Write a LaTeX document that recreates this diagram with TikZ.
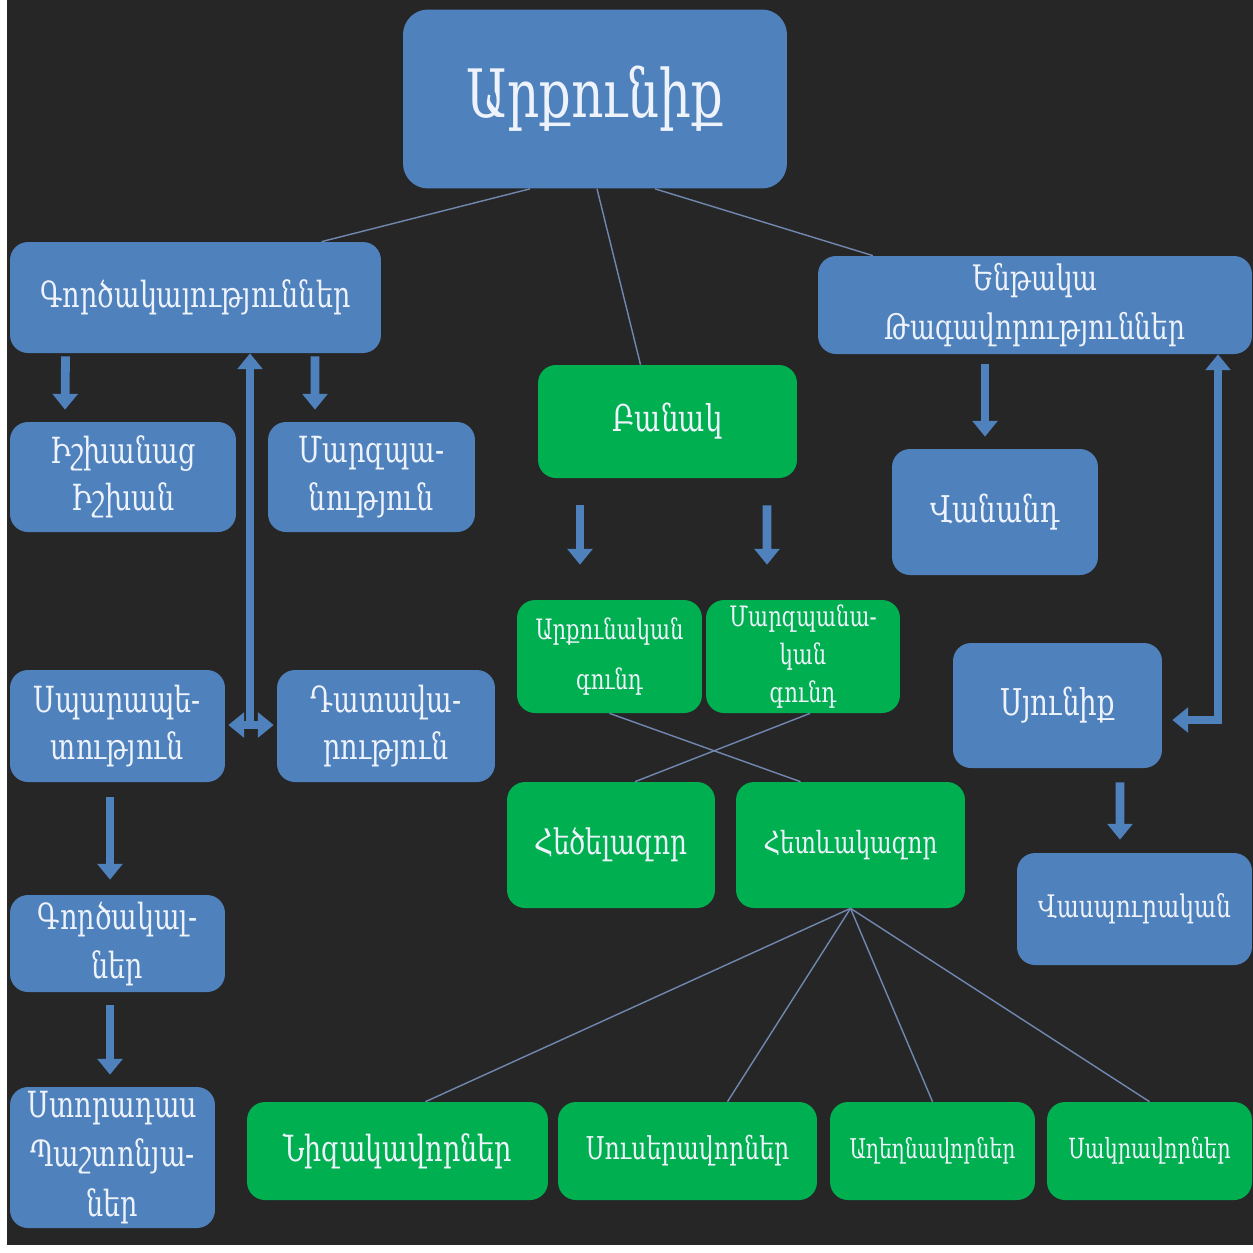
\documentclass[tikz,border=0pt]{standalone}
\usepackage{fontspec}
\setmainfont{DejaVu Serif}[FakeStretch=0.75]
\usetikzlibrary{arrows.meta,calc}
\definecolor{bgdark}{HTML}{262626}
\definecolor{boxblue}{HTML}{4F81BD}
\definecolor{boxgreen}{HTML}{00B050}
\definecolor{linkgray}{HTML}{7088B0}
\definecolor{txtwhite}{HTML}{EEF3FB}
\begin{document}
\begin{tikzpicture}[x=0.02cm,y=-0.02cm,
  box/.style={rounded corners=0.36cm,text=txtwhite,align=center,inner sep=0pt,
    font=\fontsize{20.5}{27}\selectfont},
  bluebox/.style={box,fill=boxblue},
  greenbox/.style={box,fill=boxgreen},
  thinline/.style={draw=linkgray,line width=0.8pt},
  barrow/.style={draw=boxblue,line width=5pt,-{Triangle[width=14pt,length=9pt]}},
  darrow/.style={barrow,{Triangle[width=14pt,length=9pt]}-{Triangle[width=14pt,length=9pt]}}]
\fill[white](0,0)rectangle(1253,1252);
\fill[bgdark](7,0)rectangle(1253,1245);
% top level
\node[bluebox,rounded corners=0.5cm,minimum width=7.68cm,minimum height=3.58cm,font=\fontsize{38}{44}\selectfont](arq)at(595,99){Արքունիք};
\node[bluebox,minimum width=7.42cm,minimum height=2.22cm](gk)at(195.5,297.5){Գործակալություններ};
\node[bluebox,minimum width=8.68cm,minimum height=1.96cm,font=\fontsize{20}{28}\selectfont](ent)at(1035,305){Ենթակա\\Թագավորություններ};
\node[greenbox,minimum width=5.18cm,minimum height=2.26cm,font=\fontsize{21}{27}\selectfont](banak)at(667.5,421.5){Բանակ};
% left branch
\node[bluebox,minimum width=4.52cm,minimum height=2.2cm](ish)at(123,477){Իշխանաց\\Իշխան};
\node[bluebox,minimum width=4.14cm,minimum height=2.2cm](marz)at(371.5,477){Մարզպա-\\նություն};
\node[bluebox,minimum width=4.3cm,minimum height=2.24cm](spar)at(117.5,726){Սպարապե-\\տություն};
\node[bluebox,minimum width=4.36cm,minimum height=2.24cm](dat)at(386,726){Դատավա-\\րություն};
\node[bluebox,minimum width=4.3cm,minimum height=1.94cm,font=\fontsize{20.5}{28}\selectfont](gkner)at(117.5,943.5){Գործակալ-\\ներ};
\node[bluebox,minimum width=4.1cm,minimum height=2.82cm,font=\fontsize{20.5}{28}\selectfont](stor)at(112.5,1157.5){Ստորադաս\\Պաշտոնյա-\\ներ};
% army
\node[greenbox,minimum width=3.7cm,minimum height=2.26cm,font=\fontsize{16}{28}\selectfont](arqg)at(609.5,656.5){Արքունական\\գունդ};
\node[greenbox,minimum width=3.88cm,minimum height=2.26cm,font=\fontsize{16}{21.5}\selectfont](marzg)at(803,656.5){Մարզպանա-\\կան\\գունդ};
\node[greenbox,minimum width=4.16cm,minimum height=2.52cm,font=\fontsize{20}{27}\selectfont](hets)at(611,845){Հեծելազոր};
\node[greenbox,minimum width=4.58cm,minimum height=2.52cm,font=\fontsize{17.4}{22}\selectfont](hetev)at(850.5,845){Հետևակազոր};
\node[greenbox,minimum width=6.02cm,minimum height=1.96cm](niz)at(397.5,1151){Նիզակավորներ};
\node[greenbox,minimum width=5.18cm,minimum height=1.96cm,font=\fontsize{17.9}{22}\selectfont](sus)at(687.5,1151){Սուսերավորներ};
\node[greenbox,minimum width=4.1cm,minimum height=1.96cm,font=\fontsize{15.5}{20}\selectfont](agh)at(932.5,1151){Աղեղնավորներ};
\node[greenbox,minimum width=4.1cm,minimum height=1.96cm,font=\fontsize{15.8}{20}\selectfont](sakr)at(1149.5,1151){Սակրավորներ};
% right branch
\node[bluebox,minimum width=4.12cm,minimum height=2.52cm,font=\fontsize{21}{27}\selectfont](van)at(995,512){Վանանդ};
\node[bluebox,minimum width=4.18cm,minimum height=2.5cm,font=\fontsize{21}{27}\selectfont](syun)at(1057.5,705.5){Սյունիք};
\node[bluebox,minimum width=4.7cm,minimum height=2.24cm,font=\fontsize{17.7}{22}\selectfont](vasp)at(1134.5,909){Վասպուրական};
% thin links
\draw[thinline]($(arq.south)+(-65,0)$)--($(gk.north)+(126,0)$);
\draw[thinline]($(arq.south)+(2,0)$)--($(banak.north)+(-27,0)$);
\draw[thinline]($(arq.south)+(60,0)$)--($(ent.north)+(-162,0)$);
\draw[thinline](arqg.south)--($(hetev.north)+(-50,0)$);
\draw[thinline]($(marzg.south)+(7,0)$)--($(hets.north)+(24,0)$);
\foreach \t/\dx in {niz/28,sus/40,agh/0,sakr/0}
  \draw[thinline](hetev.south)--($(\t.north)+(\dx,0)$);
% block arrows
\coordinate(tj)at(250,725);
\coordinate(bj)at(1218,720);
\draw[barrow]($(gk.south)+(-130,3)$)--($(ish.north)+(-58,-12)$);
\draw[barrow]($(gk.south)+(119.5,3)$)--($(marz.north)+(-56.5,-12)$);
\draw[barrow](tj)--(gk.south-|tj);
\draw[darrow]($(spar.east)+(3,-1)$)--($(dat.west)+(-3,-1)$);
\draw[barrow]($(banak.south)+(-87.5,27)$)--($(arqg.north)+(-29.5,-35)$);
\draw[barrow]($(banak.south)+(99.5,27)$)--($(marzg.north)+(-36,-35)$);
\draw[barrow]($(ent.south)+(-50,10)$)--($(van.north)+(-10,-12)$);
\draw[darrow](ent.south-|bj)--(bj)--($(syun.east|-bj)+(10,0)$);
\draw[barrow]($(syun.south)+(62.5,14)$)--($(vasp.north)+(-14.5,-13)$);
\draw[barrow]($(spar.south)+(-7.5,15)$)--($(gkner.north)+(-7.5,-15)$);
\draw[barrow]($(gkner.south)+(-7.5,13)$)--($(stor.north)+(-2.5,-12)$);
\end{tikzpicture}
\end{document}
